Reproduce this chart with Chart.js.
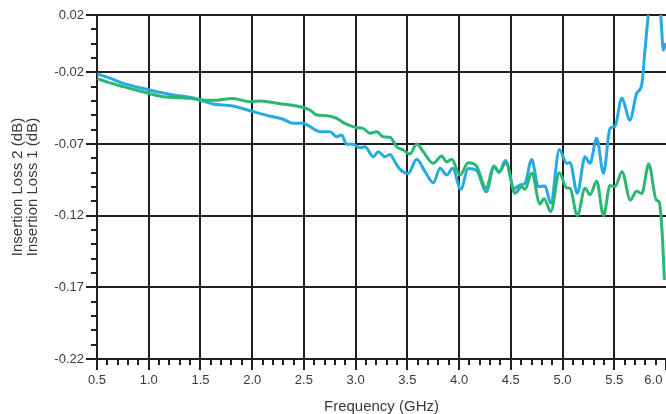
<!DOCTYPE html>
<html>
<head>
<meta charset="utf-8">
<script src="https://cdn.jsdelivr.net/npm/chart.js"></script>
<style>
  html, body { margin: 0; padding: 0; background: #fff; overflow: hidden; }
</style>
</head>
<body>
<canvas id="chart" width="666" height="414"></canvas>
<script>
// Insertion Loss 1 (blue) and Insertion Loss 2 (green)
const freqBlue = [0.500, 0.626, 0.754, 0.993, 1.238, 1.399, 1.496, 1.621, 1.815, 1.979,
  2.140, 2.298, 2.395, 2.491, 2.559, 2.656, 2.752, 2.817, 2.865, 2.914,
  2.975, 3.042, 3.091, 3.171, 3.219, 3.284, 3.332, 3.381, 3.429, 3.509,
  3.590, 3.671, 3.751, 3.816, 3.880, 3.938, 4.016, 4.089, 4.170, 4.263,
  4.338, 4.386, 4.449, 4.531, 4.589, 4.637, 4.702, 4.766, 4.831, 4.886,
  4.969, 5.040, 5.072, 5.143, 5.217, 5.266, 5.330, 5.396, 5.459, 5.507,
  5.572, 5.652, 5.717, 5.765, 5.797, 5.829, 5.884, 5.949, 5.974, 6.000];
const lossBlue = [-0.0212, -0.0240, -0.0277, -0.0320, -0.0358, -0.0374, -0.0393, -0.0421, -0.0435, -0.0468,
  -0.0500, -0.0527, -0.0556, -0.0556, -0.0579, -0.0614, -0.0614, -0.0649, -0.0637, -0.0702,
  -0.0702, -0.0726, -0.0719, -0.0789, -0.0754, -0.0789, -0.0773, -0.0826, -0.0877, -0.0905,
  -0.0807, -0.0893, -0.0970, -0.0870, -0.0916, -0.0870, -0.1016, -0.0871, -0.0885, -0.1033,
  -0.0861, -0.0899, -0.0815, -0.1011, -0.0986, -0.0974, -0.0808, -0.0998, -0.0993, -0.1114,
  -0.0738, -0.0835, -0.0829, -0.1044, -0.0789, -0.0835, -0.0660, -0.0905, -0.0591, -0.0577,
  -0.0381, -0.0533, -0.0346, -0.0288, -0.0044, 0.0200, 0.0450, 0.0200, -0.0044, 0.0005];

const freqGreen = [0.500, 0.626, 0.754, 0.996, 1.141, 1.399, 1.496, 1.621, 1.815, 1.979,
  2.076, 2.237, 2.366, 2.462, 2.559, 2.624, 2.720, 2.817, 2.878, 2.946,
  3.010, 3.071, 3.139, 3.204, 3.265, 3.332, 3.397, 3.461, 3.526, 3.590,
  3.654, 3.751, 3.832, 3.880, 3.929, 4.009, 4.089, 4.170, 4.260, 4.338,
  4.386, 4.454, 4.541, 4.605, 4.637, 4.702, 4.782, 4.821, 4.886, 4.969,
  5.040, 5.072, 5.143, 5.217, 5.266, 5.330, 5.396, 5.459, 5.507, 5.575,
  5.655, 5.715, 5.765, 5.834, 5.906, 5.935, 5.961, 5.985];
const lossGreen = [-0.0243, -0.0274, -0.0300, -0.0346, -0.0370, -0.0381, -0.0391, -0.0395, -0.0383, -0.0405,
  -0.0400, -0.0416, -0.0428, -0.0440, -0.0463, -0.0498, -0.0503, -0.0521, -0.0549, -0.0572,
  -0.0586, -0.0591, -0.0625, -0.0614, -0.0649, -0.0653, -0.0719, -0.0742, -0.0770, -0.0700,
  -0.0754, -0.0835, -0.0784, -0.0824, -0.0807, -0.0916, -0.0831, -0.0856, -0.1007, -0.0854,
  -0.0895, -0.0831, -0.1044, -0.0997, -0.1016, -0.0902, -0.1119, -0.1080, -0.1172, -0.0900,
  -0.1007, -0.1009, -0.1199, -0.1009, -0.1054, -0.0958, -0.1199, -0.0990, -0.0997, -0.0893,
  -0.1091, -0.1029, -0.1046, -0.0840, -0.1091, -0.1105, -0.1300, -0.1649];

const xTickValues = [0.5, 1.0, 1.5, 2.0, 2.5, 3.0, 3.5, 4.0, 4.5, 5.0, 5.5, 6.0];
const xTickLabels = ['0.5', '1.0', '1.5', '2.0', '2.5', '3.0', '3.5', '4.0', '4.5', '5.0', '5.5', '6.0'];
const yTickValues = [-0.22, -0.17, -0.12, -0.07, -0.02, 0.02];
const yTickLabels = ['-0.22', '-0.17', '-0.12', '-0.07', '-0.02', '0.02'];

const ink = '#231f20';
const textColor = '#3a3a3a';
const fontFamily = '"Liberation Sans", Arial, Helvetica, sans-serif';

function minorTicks(from, to, step) {
    const out = [];
    const n = Math.round((to - from) / step);
    for (let i = 0; i <= n; i++) out.push({ value: +(from + i * step).toFixed(4) });
    return out;
}

const toPoints = (xs, ys) => xs.map((x, i) => ({ x: x, y: ys[i] }));

new Chart(document.getElementById('chart'), {
    type: 'line',
    data: {
        datasets: [{
            label: 'Insertion Loss 2',
            data: toPoints(freqGreen, lossGreen),
            borderColor: '#2bb673',
            borderWidth: 3,
            pointRadius: 0,
            cubicInterpolationMode: 'monotone'
        }, {
            label: 'Insertion Loss 1',
            data: toPoints(freqBlue, lossBlue),
            borderColor: '#27aae1',
            borderWidth: 3,
            pointRadius: 0,
            cubicInterpolationMode: 'monotone'
        }]
    },
    options: {
        responsive: false,
        animation: false,
        devicePixelRatio: 1,
        layout: { padding: { top: 15, right: 0, bottom: 0, left: 0 } },
        plugins: { legend: { display: false }, tooltip: { enabled: false } },
        scales: {
            x: {
                type: 'linear',
                position: 'bottom',
                weight: 1,
                min: 0.5,
                max: 6.0,
                afterBuildTicks: s => { s.ticks = xTickValues.map(v => ({ value: v })); },
                afterFit: s => { s.height = 55; s.paddingRight = 0; s.paddingLeft = 0; },
                ticks: {
                    autoSkip: false,
                    maxRotation: 0,
                    padding: 3,
                    color: textColor,
                    font: { family: fontFamily, size: 13 },
                    // last label sits left of its tick, as in the original
                    callback: (v, i) => i === xTickLabels.length - 1 ? xTickLabels[i] + '       ' : xTickLabels[i]
                },
                grid: {
                    color: ctx => (ctx.tick && ctx.tick.value >= 6) ? 'rgba(0,0,0,0)' : ink,
                    lineWidth: 2,
                    tickColor: ink,
                    tickWidth: 2,
                    tickLength: 11
                },
                border: { display: true, color: ink, width: 2 },
                title: {
                    display: true,
                    text: 'Frequency (GHz)',
                    color: textColor,
                    font: { family: fontFamily, size: 15 },
                    padding: { top: 0, bottom: -2 }
                }
            },
            xm: {
                type: 'linear',
                position: 'bottom',
                weight: 0,
                min: 0.5,
                max: 6.0,
                afterBuildTicks: s => { s.ticks = minorTicks(0.5, 6.0, 0.1); },
                afterFit: s => { s.height = 0; s.paddingRight = 0; s.paddingLeft = 0; },
                ticks: { display: false },
                grid: { drawOnChartArea: false, color: ink, lineWidth: 2, tickLength: 6 },
                border: { display: false }
            },
            y: {
                type: 'linear',
                position: 'left',
                weight: 1,
                min: -0.22,
                max: 0.02,
                afterBuildTicks: s => { s.ticks = yTickValues.map(v => ({ value: v })); },
                afterFit: s => { s.width = 97; },
                ticks: {
                    padding: 2,
                    color: textColor,
                    font: { family: fontFamily, size: 13 },
                    callback: (v, i) => yTickLabels[i]
                },
                grid: {
                    color: ink,
                    lineWidth: 2,
                    tickColor: ink,
                    tickWidth: 2,
                    tickLength: 11
                },
                border: { display: true, color: ink, width: 2 },
                title: {
                    display: true,
                    text: ['Insertion Loss 2 (dB)', 'Insertion Loss 1 (dB)'],
                    color: textColor,
                    font: { family: fontFamily, size: 15, lineHeight: 1.03 },
                    padding: { top: 10, bottom: 0 }
                }
            },
            ym: {
                type: 'linear',
                position: 'left',
                weight: 0,
                min: -0.22,
                max: 0.02,
                afterBuildTicks: s => { s.ticks = minorTicks(-0.22, 0.02, 0.01); },
                afterFit: s => { s.width = 0; },
                ticks: { display: false },
                grid: { drawOnChartArea: false, color: ink, lineWidth: 2, tickLength: 6 },
                border: { display: false }
            }
        }
    }
});
</script>
</body>
</html>
